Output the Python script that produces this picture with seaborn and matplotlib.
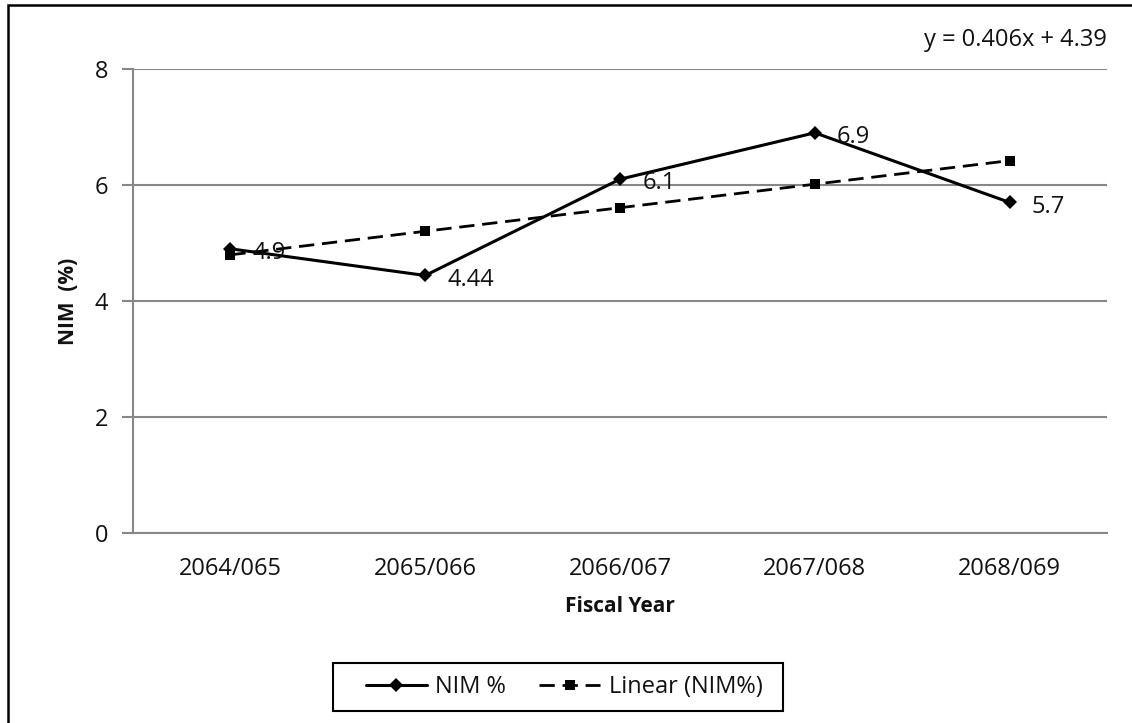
import numpy as np
import pandas as pd
import seaborn as sns
import matplotlib
matplotlib.use("Agg")
import matplotlib.pyplot as plt
from matplotlib.patches import Rectangle

# Net interest margin by fiscal year
fiscal_years = ["2064/065", "2065/066", "2066/067", "2067/068", "2068/069"]
nim_values = [4.9, 4.44, 6.1, 6.9, 5.7]
y_ticks = [0, 2, 4, 6, 8]

# Least-squares linear trend over periods 1..n
periods = np.arange(1, len(nim_values) + 1)
slope, intercept = np.polyfit(periods, nim_values, 1)
trend_values = slope * periods + intercept

df = pd.DataFrame({"year": fiscal_years, "nim": nim_values, "trend": trend_values})
df["pos"] = np.arange(len(df))

sns.set_theme(style="white")
plt.rcParams["font.family"] = ["Open Sans", "DejaVu Sans"]

W, H = 1132, 723
fig = plt.figure(figsize=(W / 100, H / 100), dpi=100)
ax = fig.add_axes([133 / W, 1 - 533 / H, (1107 - 133) / W, (533 - 69) / H])

grid_c = "#878787"
text_c = "#111111"

sns.lineplot(data=df, x="pos", y="nim", ax=ax, color="black", linewidth=2.2,
             marker="D", markersize=7, markeredgewidth=0, label="NIM %")
sns.lineplot(data=df, x="pos", y="trend", ax=ax, color="black", linewidth=2.0,
             linestyle=(0, (5.5, 2.8)), marker="s", markersize=6.5, markeredgewidth=0,
             label="Linear (NIM%)")

# value labels
for p, v in zip(df["pos"], df["nim"]):
    ax.annotate(f"{v:g}", (p, v), xytext=(16, -3), textcoords="offset points",
                ha="left", va="center", fontsize=17, color=text_c)

ax.set_xlim(-0.5, len(fiscal_years) - 0.5)
ax.set_ylim(0, 8)
ax.set_yticks(y_ticks)
ax.set_yticklabels([str(t) for t in y_ticks], fontsize=17, color=text_c)
ax.set_xticks(df["pos"])
ax.set_xticklabels(fiscal_years, fontsize=17, color=text_c)
ax.set_xticks(np.arange(-0.5, len(fiscal_years)), minor=True)
ax.tick_params(axis="x", which="major", length=0, pad=17)
ax.tick_params(axis="x", which="minor", length=7, width=1.5, color=grid_c)
ax.tick_params(axis="y", which="major", length=8, width=1.5, color=grid_c, pad=10, left=True)

ax.yaxis.grid(True, color=grid_c, linewidth=1.5)
ax.set_axisbelow(True)
for side in ["top", "right"]:
    ax.spines[side].set_visible(False)
for side in ["left", "bottom"]:
    ax.spines[side].set_color(grid_c)
    ax.spines[side].set_linewidth(1.5)

ax.set_xlabel("Fiscal Year", fontsize=15, fontweight="bold", labelpad=11, color=text_c)
ax.set_ylabel("NIM  (%)", fontsize=15, fontweight="bold", labelpad=11, color=text_c)

leg = ax.legend(loc="center", bbox_to_anchor=(564 / W, 1 - 687 / H),
                bbox_transform=fig.transFigure, ncol=2, frameon=False,
                fontsize=17, handlelength=2.6, handletextpad=0.35, columnspacing=1.4)
for t in leg.get_texts():
    t.set_color(text_c)

# legend box
fig.patches.append(Rectangle((333 / W, 1 - 711 / H), (783 - 333) / W, (711 - 663) / H,
                             transform=fig.transFigure, fill=False,
                             edgecolor="black", linewidth=1.5))

fig.text(1107 / W, 1 - 40 / H,
         f"y = {slope:.3f}x + {intercept:.2f}", ha="right", va="center",
         fontsize=17, color=text_c)

# chart area border
fig.patches.append(Rectangle((8 / W, -0.1), 1.2, 1 - 5 / H + 0.1,
                             transform=fig.transFigure, fill=False,
                             edgecolor="black", linewidth=1.8))

fig.savefig("out.png", dpi=100, facecolor="white")
